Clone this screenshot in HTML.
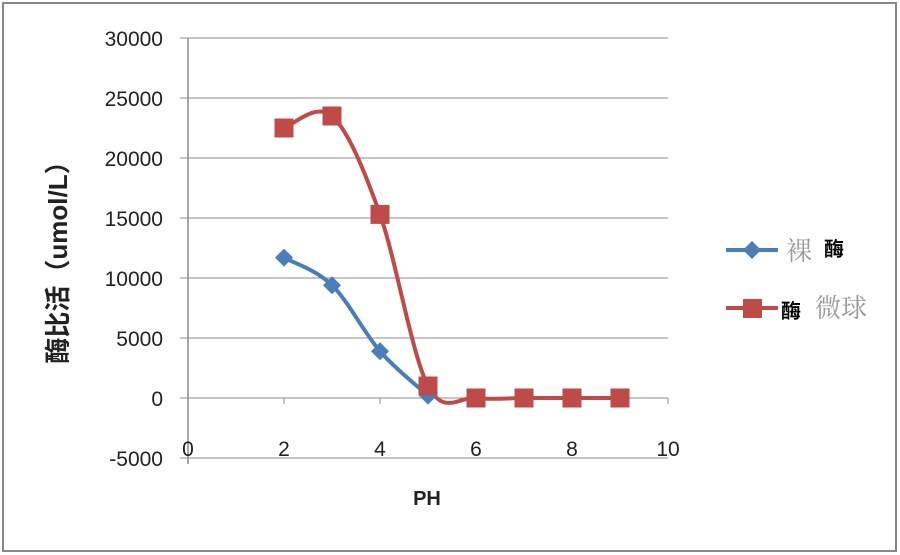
<!DOCTYPE html>
<html><head><meta charset="utf-8"><style>
body{margin:0;background:#fff;}
svg{display:block;font-family:"Liberation Sans","Noto Sans CJK SC",sans-serif;}
</style></head><body>
<svg width="900" height="555">
<rect x="3" y="3" width="893" height="548" fill="#fff" stroke="#888" stroke-width="2"/>
<g id="grid"></g>
<g id="series"></g>
<text x="0" y="0" transform="translate(67,256) rotate(-90)" text-anchor="middle" font-size="26" font-weight="bold" fill="#222">酶比活（umol/L）</text>
<text x="427" y="505" text-anchor="middle" font-size="20" font-weight="bold" fill="#222">PH</text>
<g>
<g>
<line x1="726" y1="250" x2="778" y2="250" stroke="#4a7ebb" stroke-width="4"/>
<path d="M752 241 L761 250 L752 259 L743 250Z" fill="#4a7ebb"/>
<text x="786" y="260" font-size="26" fill="#999" font-family="'Noto Serif CJK SC',serif">裸</text>
<text x="824" y="256" font-size="20" font-weight="bold" fill="#000">酶</text>
</g>
<g>
<line x1="726" y1="308" x2="778" y2="308" stroke="#be4b48" stroke-width="4"/>
<rect x="743" y="299" width="19" height="19" fill="#be4b48"/>
<text x="781" y="318" font-size="20" font-weight="bold" fill="#000">酶</text>
<text x="815" y="317" font-size="26" fill="#999" font-family="'Noto Serif CJK SC',serif">微球</text>
</g>
</g>
</svg>
<script>
const yTicks=[30000,25000,20000,15000,10000,5000,0,-5000];
const xTicks=[0,2,4,6,8,10];
const phA=[2,3,4,5];
const nakedVals=[11700,9400,3900,200];
const phB=[2,3,4,5,6,7,8,9];
const microVals=[22500,23500,15300,1000,0,0,0,0];
const NS="http://www.w3.org/2000/svg";
const X=v=>188+v*48, Y=v=>398-v*0.012;
const grid=document.getElementById('grid'), ser=document.getElementById('series');
function mk(tag,attrs,parent){const e=document.createElementNS(NS,tag);for(const k in attrs)e.setAttribute(k,attrs[k]);parent.appendChild(e);return e;}
yTicks.forEach(t=>{
  const l=mk('line',{x1:180,x2:668,y1:Y(t),y2:Y(t),stroke:'#8c8c8c','stroke-width':1},grid);
  
  
  const tx=mk('text',{x:163,y:Y(t)+8,'text-anchor':'end','font-size':21,fill:'#222'},grid);
  tx.textContent=t;
  
  
});
const ax=mk('line',{x1:X(0),x2:X(0),y1:Y(30000),y2:Y(-5000)+6,stroke:'#8c8c8c','stroke-width':1.5},grid);


xTicks.forEach(t=>{
  const tk=mk('line',{x1:X(t),x2:X(t),y1:Y(0),y2:Y(0)+6,stroke:'#8c8c8c'},grid);
  
  
  const tx=mk('text',{x:X(t),y:Y(-5000)-2,'text-anchor':'middle','font-size':21,fill:'#222'},grid);
  tx.textContent=t;
  
  
});
function smooth(xs,ys){
  const p=xs.map((x,i)=>[X(x),Y(ys[i])]);
  let d=`M${p[0][0]},${p[0][1]}`;
  for(let i=0;i<p.length-1;i++){
    const p0=p[i-1]||p[i],p1=p[i],p2=p[i+1],p3=p[i+2]||p2;
    const c1=[p1[0]+(p2[0]-p0[0])/6,p1[1]+(p2[1]-p0[1])/6];
    const c2=[p2[0]-(p3[0]-p1[0])/6,p2[1]-(p3[1]-p1[1])/6];
    d+=` C${c1[0]},${c1[1]} ${c2[0]},${c2[1]} ${p2[0]},${p2[1]}`;
  }
  return d;
}
const lb=mk('path',{d:smooth(phA,nakedVals),fill:'none',stroke:'#4a7ebb','stroke-width':4},ser);


const lr=mk('path',{d:smooth(phB,microVals),fill:'none',stroke:'#be4b48','stroke-width':4},ser);


phA.forEach((x,i)=>{
  const cx=X(x),cy=Y(nakedVals[i]);
  const m=mk('path',{d:`M${cx} ${cy-9} L${cx+9} ${cy} L${cx} ${cy+9} L${cx-9} ${cy}Z`,fill:'#4a7ebb'},ser);
  
  
});
phB.forEach((x,i)=>{
  const cx=X(x),cy=Y(microVals[i]);
  const m=mk('rect',{x:cx-9.5,y:cy-9.5,width:19,height:19,fill:'#be4b48'},ser);
  
  
});
</script>
</body></html>
